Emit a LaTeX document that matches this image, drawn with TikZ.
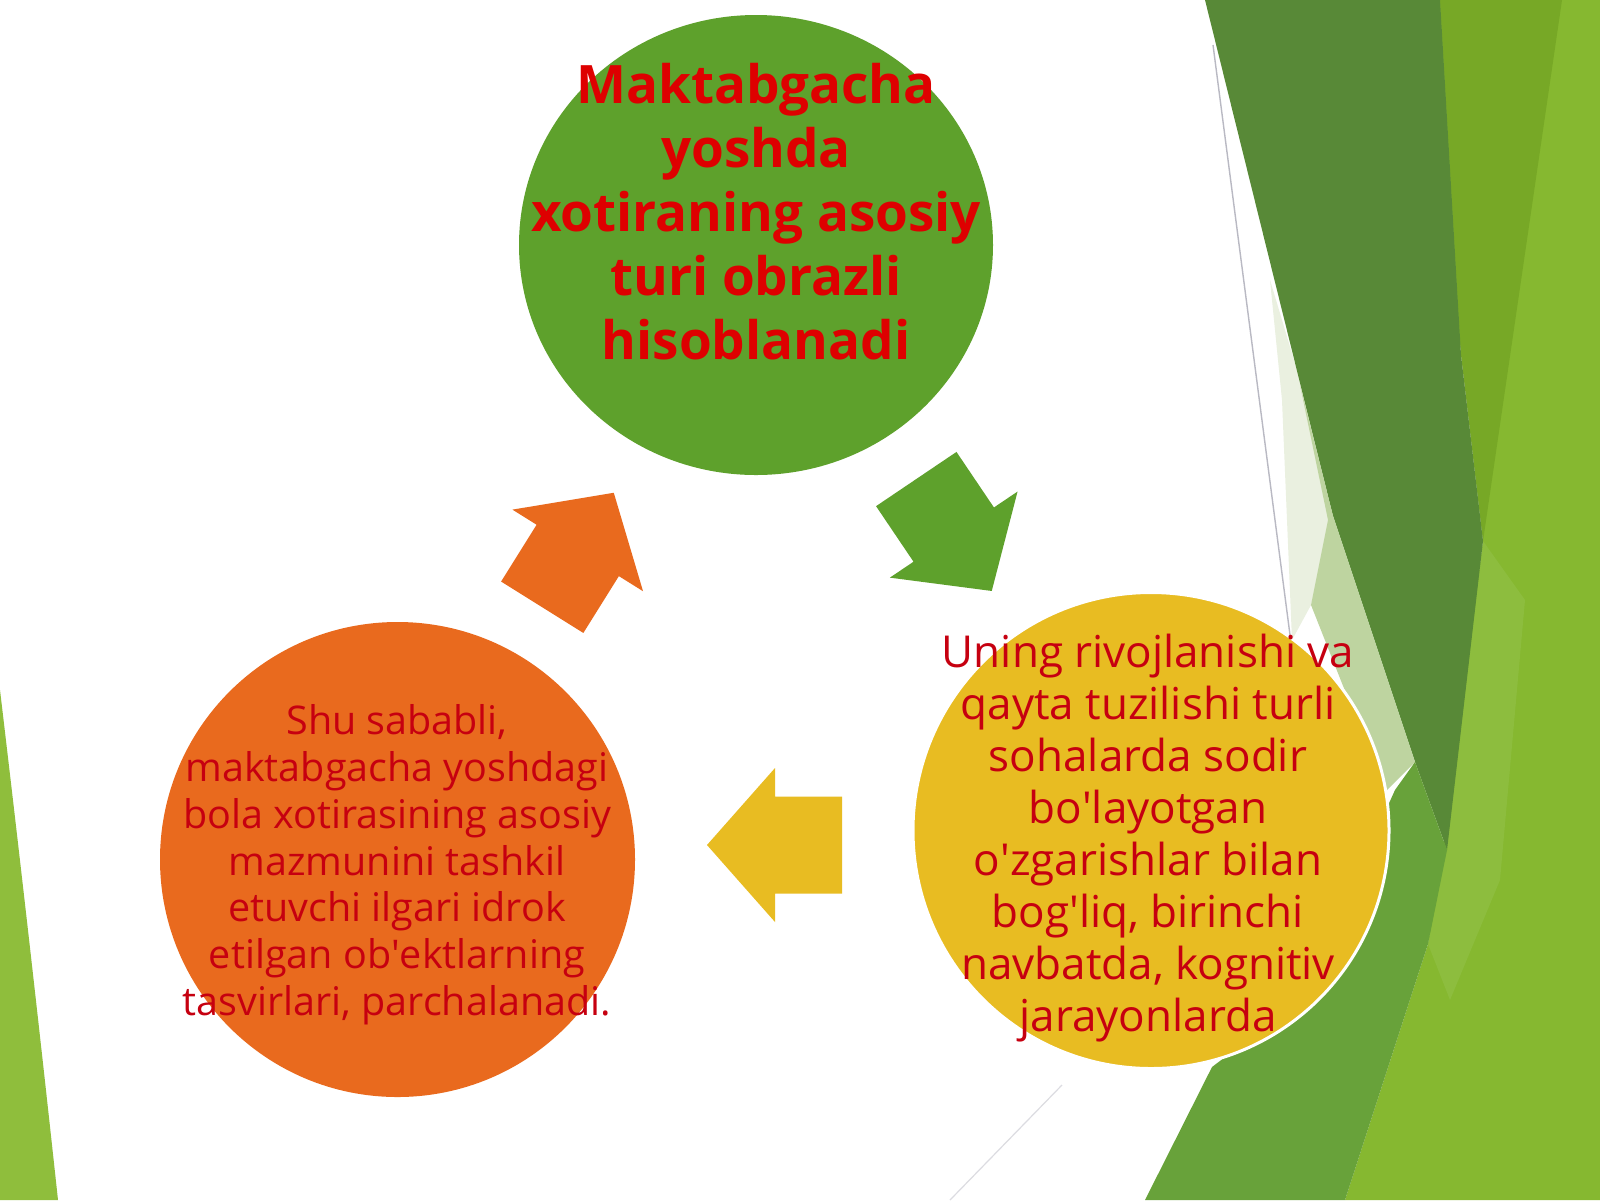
\documentclass[tikz,border=0pt]{standalone}
\usepackage{fontspec}
\setmainfont{Open Sans}
\usetikzlibrary{shapes.geometric}
\definecolor{leafL}{RGB}{143,190,60}
\definecolor{leafB}{RGB}{134,184,48}
\definecolor{leafS}{RGB}{141,189,62}
\definecolor{leafM}{RGB}{119,168,38}
\definecolor{leafD}{RGB}{88,137,55}
\definecolor{leafP}{RGB}{190,212,160}
\definecolor{leafW}{RGB}{234,240,224}
\definecolor{leafG}{RGB}{104,162,58}
\definecolor{hairline}{RGB}{185,185,195}
\definecolor{cGreen}{RGB}{94,161,44}
\definecolor{cYellow}{RGB}{232,188,34}
\definecolor{cOrange}{RGB}{233,106,30}
\definecolor{tTitle}{RGB}{222,0,0}
\definecolor{tBody}{RGB}{198,0,16}
\tikzset{
  blob/.style={circle, inner sep=0pt, draw=none},
  titletext/.style={inner sep=0pt, align=center, text=tTitle, font=\fontsize{26.5pt}{32pt}\selectfont\bfseries},
  righttext/.style={inner sep=0pt, align=center, text=tBody, font=\fontsize{22pt}{26pt}\selectfont},
  lefttext/.style={inner sep=0pt, align=center, text=tBody, font=\fontsize{19.75pt}{23.35pt}\selectfont},
}
\newcommand\ap{\textquotesingle}
\newcommand\cyclearrow[4]{% center x, center y, angle, colour
  \begin{scope}[shift={(#1,#2)}, rotate=#3]
    \fill[#4] (67.5,0) -- (-0.5,77) -- (-0.5,48.5) -- (-67.5,48.5) -- (-67.5,-48.5) -- (-0.5,-48.5) -- (-0.5,-77) -- cycle;
  \end{scope}}
\begin{document}
\begin{tikzpicture}[x=0.5pt,y=-0.5pt]
\useasboundingbox (0,0) rectangle (1600,1200);
\fill[white] (0,0) rectangle (1600,1200);
% left leaf
\fill[leafL] (0,690) .. controls (25,900) and (45,1080) .. (58,1200) -- (0,1200) -- cycle;
% right leaves
\fill[leafB] (1420,0) -- (1600,0) -- (1600,1200) -- (1345,1200) -- (1428,944) -- (1445,834) -- (1483,541) -- cycle;
\fill[leafS] (1483,541) -- (1525,600) -- (1500,880) -- (1450,1000) -- (1428,944) -- (1447,848) -- cycle;
\fill[leafM] (1440,0) -- (1562,0) -- (1483,541) -- (1461,355) -- cycle;
\fill[leafW] (1270,280) -- (1300,380) -- (1333,516) -- (1311,605) -- (1292,640) -- (1282,400) -- cycle;
\fill[leafD] (1205,0) -- (1440,0) -- (1461,355) -- (1483,541) -- (1447,850) -- (1415,762) -- (1333,516) -- cycle;
\fill[leafP] (1300,385) -- (1333,516) -- (1415,762) -- (1385,792) -- (1311,605) -- (1328,520) -- cycle;
\fill[leafG] (1145,1200) -- (1345,1200) -- (1428,944) -- (1447,850) -- (1415,762) -- (1395,790) -- (1300,1000) -- (1212,1067) -- cycle;
\draw[hairline, line width=0.7pt] (1213,45) -- (1290,635);
\draw[hairline!50, line width=0.6pt] (950,1200) -- (1062,1085);
% circles
\node[ellipse, inner sep=0pt, fill=cGreen, minimum width=237pt, minimum height=230pt] (top) at (756,245) {};
\node[blob, fill=cYellow, draw=white, line width=1.5pt, minimum size=238pt] (right) at (1151,830.5) {};
\node[blob, fill=cOrange, minimum size=237.5pt] (left) at (397.5,859.5) {};
% arrows
\cyclearrow{954}{535}{-56}{cGreen}
\cyclearrow{774.5}{845}{180}{cYellow}
\cyclearrow{578}{550}{58}{cOrange}
% texts
\node[titletext] (toptext) at (756,218.2) {\strut Maktabgacha\\\strut yoshda\\\strut xotiraning asosiy\\\strut turi obrazli\\\strut hisoblanadi};
\node[righttext] (righttxt) at (1148,838.6) {\strut Uning rivojlanishi va\\\strut qayta tuzilishi turli\\\strut sohalarda sodir\\\strut bo\ap layotgan\\\strut o\ap zgarishlar bilan\\\strut bog\ap liq, birinchi\\\strut navbatda, kognitiv\\\strut jarayonlarda};
\node[lefttext] (lefttxt) at (397,865.7) {\strut Shu sababli,\\\strut maktabgacha yoshdagi\\\strut bola xotirasining asosiy\\\strut mazmunini tashkil\\\strut etuvchi ilgari idrok\\\strut etilgan ob\ap ektlarning\\\strut tasvirlari, parchalanadi.};
\end{tikzpicture}
\end{document}
